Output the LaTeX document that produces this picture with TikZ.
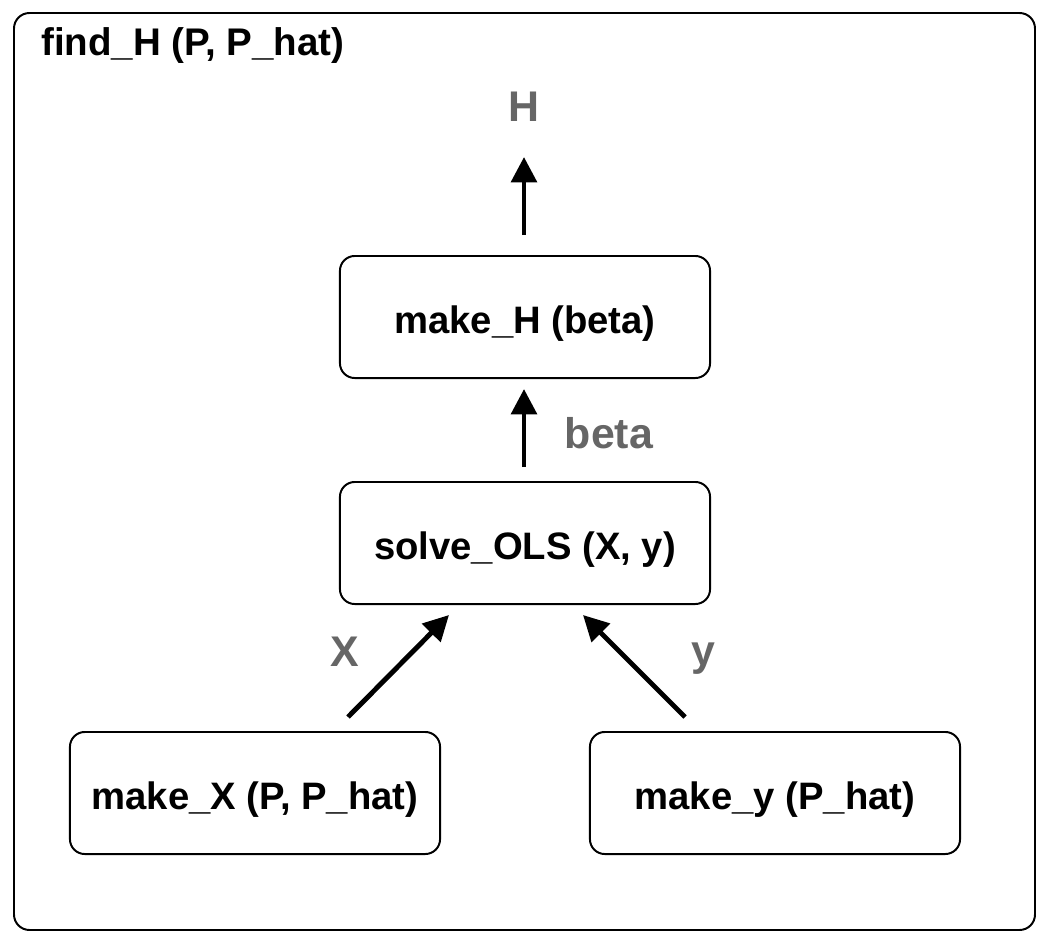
\documentclass[tikz,border=0pt]{standalone}
\usepackage{fontspec}
\setmainfont{Liberation Sans}
\usetikzlibrary{arrows.meta}
\definecolor{labgray}{HTML}{666666}
\tikzset{
  fnbox/.style={draw=black, line width=1.4pt, rounded corners=10.5pt, fill=white,
    minimum width=9.25cm, minimum height=3.05cm, inner sep=0pt,
    text height=24.5pt, text depth=0.5pt,
    font=\fontsize{27.2}{31}\selectfont\bfseries},
  flowarr/.style={line width=3.5pt, -{Triangle[width=18pt,length=18pt]}},
  lab/.style={text=labgray, inner sep=0pt, font=\fontsize{30.5}{36}\selectfont\bfseries},
}
\begin{document}
\begin{tikzpicture}[x=0.025cm, y=-0.025cm]
\useasboundingbox (0,0) rectangle (1054,946);
\draw[line width=1.4pt, rounded corners=11pt] (14,13) rectangle (1035,930);
\node[anchor=west, inner sep=0pt, font=\fontsize{27.4}{31}\selectfont\bfseries] (title) at (41,46) {find\_H (P, P\_hat)};

\node[fnbox] (makeH) at (525,317) {make\_H (beta)};
\node[fnbox] (solve) at (525,543) {solve\_OLS (X, y)};
\node[fnbox] (makeX) at (255,793) {make\_X (P, P\_hat)};
\node[fnbox] (makey) at (775,793) {make\_y (P\_hat)};

\node[lab] (Hlab) at (524,107) {H};
\node[lab] (betalab) at (609,433) {beta};
\node[lab] (Xlab) at (345,652) {X};
\node[lab] (ylab) at (703,659) {y};

\coordinate (Hs) at (524,235);
\coordinate (He) at (524,157);
\coordinate (bs) at (524,467);
\coordinate (be) at (524,389);
\coordinate (xs) at (348,717);
\coordinate (xe) at (449,615);
\coordinate (ys) at (685,717);
\coordinate (ye) at (583,615);

\draw[flowarr] (Hs) -- (He);
\draw[flowarr] (bs) -- (be);
\draw[flowarr] (xs) -- (xe);
\draw[flowarr] (ys) -- (ye);
\end{tikzpicture}
\end{document}
